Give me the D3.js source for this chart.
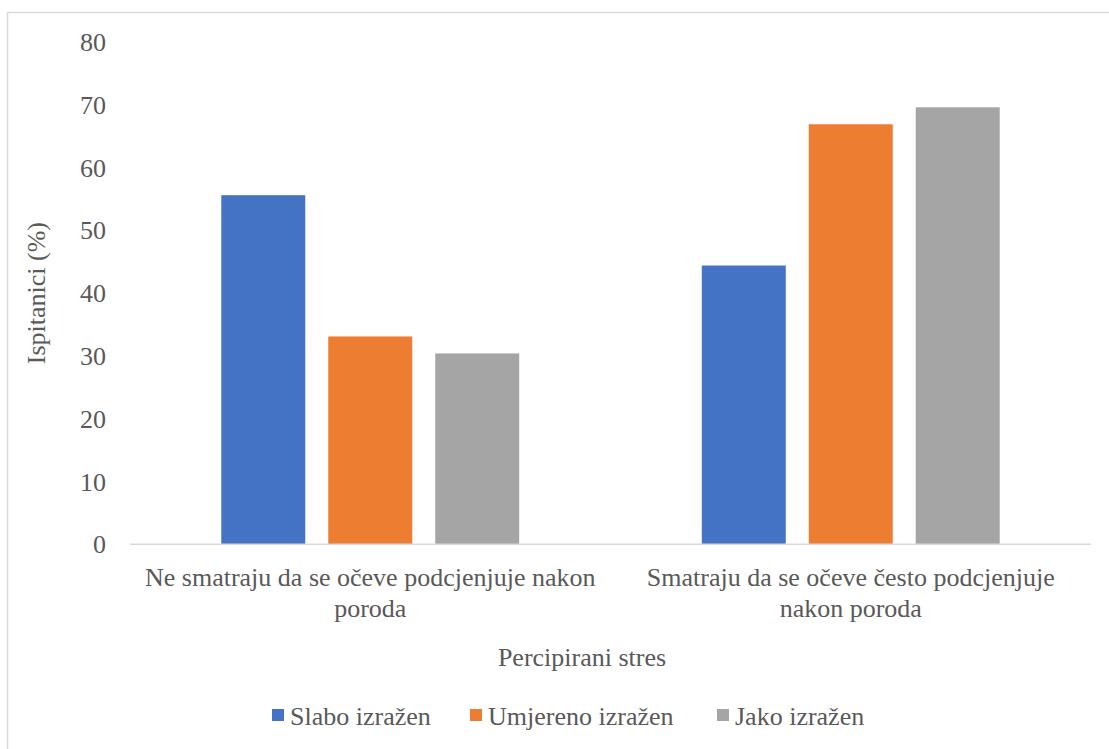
<!DOCTYPE html>
<html>
<head>
<meta charset="utf-8">
<script src="https://cdn.jsdelivr.net/npm/d3@7"></script>
<style>
  body { margin: 0; background: #fff; }
  svg text { font-family: 'Liberation Serif', 'Times New Roman', 'DejaVu Serif', serif; fill: #595959; }
</style>
</head>
<body>
<svg id="chart" width="1109" height="749"></svg>
<script>
const categories = ["Ne smatraju", "Smatraju"];
const categoryLines = [
    ["Ne smatraju da se očeve podcjenjuje nakon", "poroda"],
    ["Smatraju da se očeve često podcjenjuje", "nakon poroda"]
];
const seriesNames = ["Slabo izražen", "Umjereno izražen", "Jako izražen"];
const slabo = [55.6, 44.4];
const umjereno = [33.1, 66.9];
const jako = [30.4, 69.6];
const yTicks = [0, 10, 20, 30, 40, 50, 60, 70, 80];
const colors = ["#4472C4", "#ED7D31", "#A5A5A5"];

const width = 1109, height = 749;
const margin = {top: 42, right: 18, bottom: 205, left: 130};
const serif = "'Liberation Serif', 'Times New Roman', 'DejaVu Serif', serif";

const svg = d3.select("#chart");

// chart area border
svg.append("rect")
    .attr("x", 7.5)
    .attr("y", 12.5)
    .attr("width", 1200)
    .attr("height", 800)
    .attr("fill", "none")
    .attr("stroke", "#D9D9D9")
    .attr("stroke-width", 1.5);

const seriesValues = [slabo, umjereno, jako];
const rows = categories.map((c, i) => ({
    category: c,
    values: seriesValues.map((s, j) => ({series: j, value: s[i]}))
}));

const x = d3.scaleBand()
    .domain(categories)
    .range([margin.left, width - margin.right]);

const xInner = d3.scaleBand()
    .domain(d3.range(seriesNames.length))
    .range([x.bandwidth() * 0.19, x.bandwidth() * 0.81])
    .paddingInner(0.215);

const y = d3.scaleLinear()
    .domain([0, 80])
    .range([height - margin.bottom + 0.3, margin.top]);

// y tick labels
svg.append("g")
    .selectAll("text")
    .data(yTicks)
    .join("text")
    .attr("x", 106)
    .attr("y", d => y(d))
    .attr("dy", "0.35em")
    .attr("text-anchor", "end")
    .attr("font-family", serif)
    .style("font-size", "26px")
    .text(d => d);

// bars
svg.append("g")
    .selectAll("g")
    .data(rows)
    .join("g")
    .attr("transform", d => `translate(${x(d.category)},0)`)
    .selectAll("rect")
    .data(d => d.values)
    .join("rect")
    .attr("x", d => xInner(d.series))
    .attr("width", xInner.bandwidth())
    .attr("y", d => y(d.value))
    .attr("height", d => y(0) - y(d.value))
    .attr("fill", d => colors[d.series]);

// x axis line
svg.append("line")
    .attr("x1", margin.left)
    .attr("x2", width - margin.right)
    .attr("y1", y(0))
    .attr("y2", y(0))
    .attr("stroke", "#D9D9D9")
    .attr("stroke-width", 1.5);

// category labels
const catLabels = svg.append("g")
    .selectAll("text")
    .data(categories)
    .join("text")
    .attr("text-anchor", "middle")
    .attr("font-family", serif)
    .style("font-size", "26px");

catLabels.selectAll("tspan")
    .data((d, i) => categoryLines[i].map(line => ({line, cx: x(d) + x.bandwidth() / 2})))
    .join("tspan")
    .attr("x", d => d.cx)
    .attr("y", (d, i) => 586 + i * 31)
    .text(d => d.line);

// axis titles
svg.append("text")
    .attr("transform", "rotate(-90)")
    .attr("x", -(y(0) + y(80)) / 2)
    .attr("y", 45)
    .attr("text-anchor", "middle")
    .attr("font-family", serif)
    .style("font-size", "26px")
    .text("Ispitanici (%)");

svg.append("text")
    .attr("x", 582)
    .attr("y", 666)
    .attr("text-anchor", "middle")
    .attr("font-family", serif)
    .style("font-size", "26px")
    .text("Percipirani stres");

// legend
const legendX = [272, 470, 717];
const legend = svg.append("g")
    .selectAll("g")
    .data(seriesNames)
    .join("g")
    .attr("transform", (d, i) => `translate(${legendX[i]},709)`);

legend.append("rect")
    .attr("width", 12)
    .attr("height", 12)
    .attr("fill", (d, i) => colors[i]);

legend.append("text")
    .attr("x", 18)
    .attr("y", 16)
    .attr("font-family", serif)
    .style("font-size", "26px")
    .text(d => d);
</script>
</body>
</html>
